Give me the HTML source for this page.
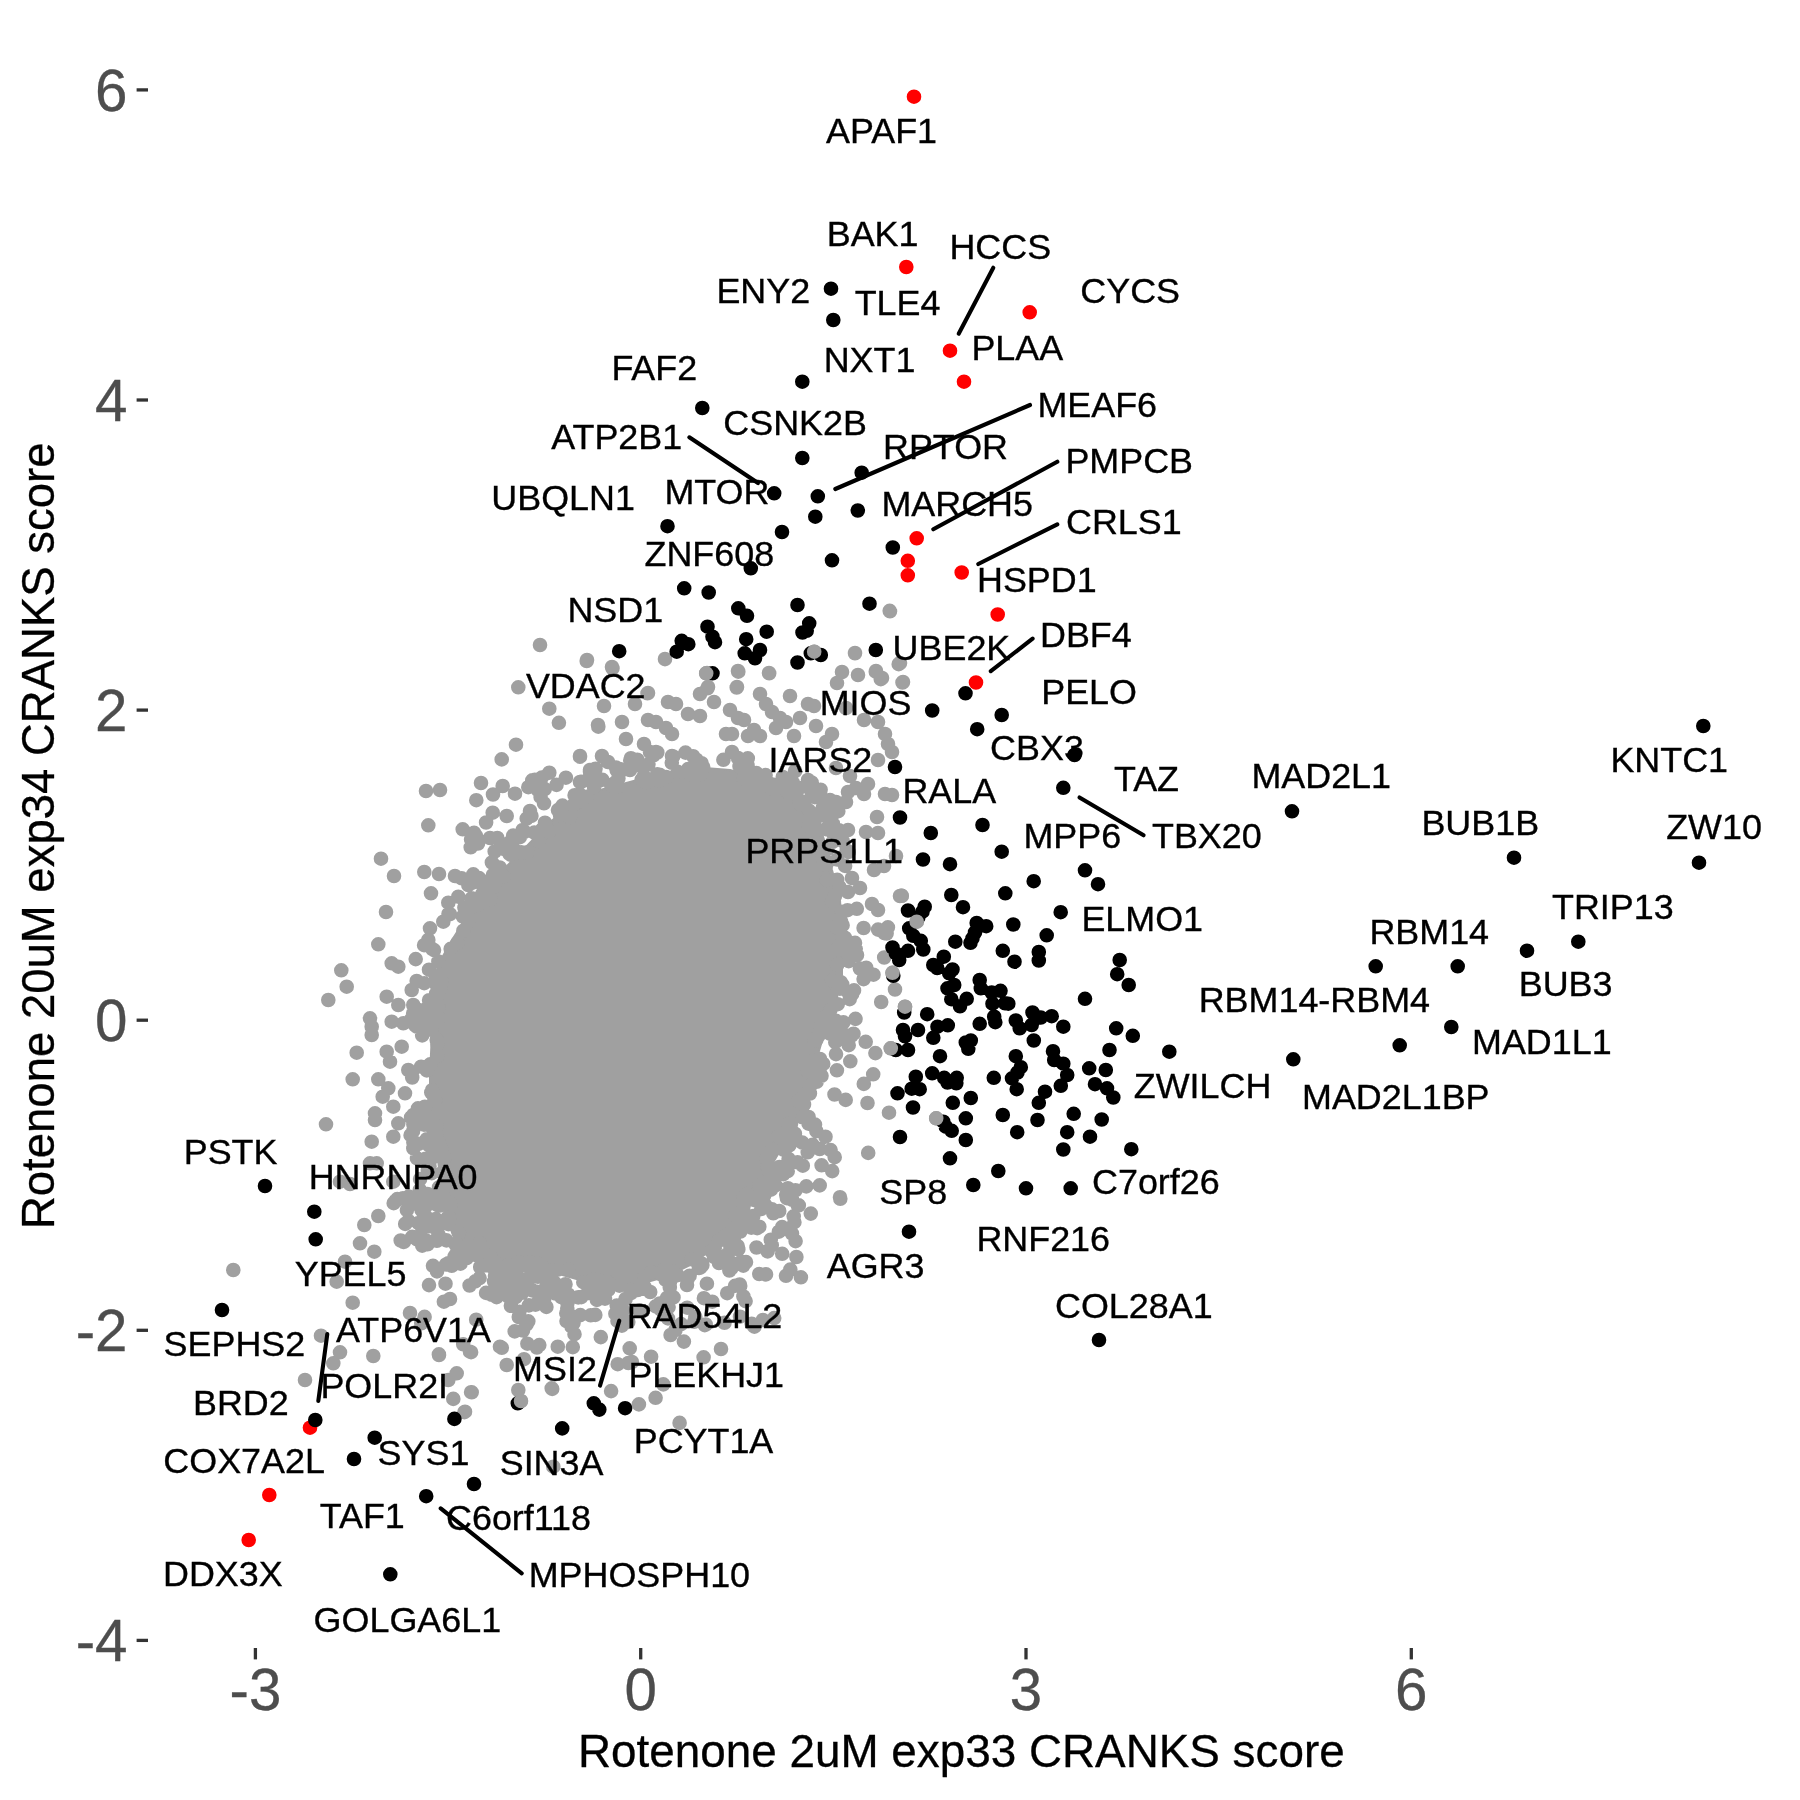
<!DOCTYPE html>
<html><head><meta charset="utf-8"><title>Rotenone CRANKS scatter</title>
<style>
html,body{margin:0;padding:0;background:#fff;}
svg{display:block;will-change:transform;}
text{font-family:"Liberation Sans",sans-serif;}
.lab{font-size:35.9px;fill:#000;stroke:#000;stroke-width:0.35px;}
.tk{font-size:58.33px;fill:#4d4d4d;stroke:#4d4d4d;stroke-width:0.3px;}
.ttl{font-size:45.83px;fill:#000;stroke:#000;stroke-width:0.3px;}
</style></head>
<body>
<svg width="1800" height="1800" viewBox="0 0 1800 1800">
<rect width="1800" height="1800" fill="#fff"/>
<polygon points="680.0,770.0 705.0,768.0 730.0,770.0 760.0,778.0 785.0,788.0 805.0,797.0 817.0,820.0 826.0,845.0 832.0,870.0 840.0,900.0 842.0,930.0 842.0,975.0 836.0,1002.0 826.0,1027.0 819.0,1051.0 813.0,1076.0 806.0,1100.0 794.0,1124.0 781.0,1149.0 767.0,1173.0 752.0,1198.0 735.0,1222.0 716.0,1245.0 696.0,1262.0 668.0,1276.0 640.0,1284.0 610.0,1286.0 580.0,1280.0 545.0,1270.0 510.0,1266.0 480.0,1258.0 455.0,1240.0 445.0,1215.0 442.0,1190.0 438.0,1160.0 433.0,1130.0 430.0,1100.0 430.0,1075.0 432.0,1032.0 433.0,990.0 438.0,965.0 452.0,940.0 466.0,918.0 483.0,895.0 503.0,870.0 525.0,848.0 547.0,825.0 572.0,803.0 600.0,790.0 630.0,782.0 655.0,775.0" fill="#a0a0a0" stroke="#a0a0a0" stroke-width="2" stroke-linejoin="round"/>
<path d="M748.5 777.6h0M526.7 818.6h0M839.4 886.9h0M581.2 1297.1h0M809.4 788.1h0M737.7 1246.1h0M433.1 1024.1h0M439.0 1187.4h0M771.8 1245.0h0M448.5 1224.2h0M729.3 1237.1h0M788.1 1124.4h0M826.8 880.2h0M651.0 1272.2h0M590.7 1293.3h0M787.7 1171.2h0M580.3 1315.1h0M628.3 1321.9h0M600.8 1337.1h0M505.3 1268.1h0M508.7 1296.9h0M665.7 1279.9h0M884.2 957.5h0M853.5 1033.7h0M492.7 876.6h0M445.8 1200.4h0M464.4 907.6h0M747.1 1194.1h0M772.0 788.5h0M832.2 901.6h0M718.3 1241.2h0M579.9 801.1h0M865.7 1041.8h0M735.2 1215.4h0M593.6 1287.1h0M592.5 1288.5h0M786.0 1275.8h0M490.8 899.7h0M486.3 1265.3h0M844.9 937.7h0M821.9 1023.2h0M786.5 790.9h0M739.5 766.2h0M437.8 1019.4h0M528.3 787.2h0M855.0 942.9h0M467.6 1256.8h0M691.1 774.6h0M620.9 1312.4h0M774.2 1318.1h0M611.2 785.1h0M657.3 752.5h0M528.9 1305.4h0M792.8 782.7h0M700.7 774.3h0M574.3 804.0h0M815.8 817.1h0M551.1 1270.6h0M791.0 1123.8h0M437.6 1044.1h0M816.7 829.0h0M422.8 1114.7h0M564.0 1289.3h0M472.1 882.8h0M586.4 796.9h0M630.9 758.2h0M479.6 1278.1h0M413.4 1142.4h0M565.9 777.7h0M761.4 777.6h0M813.8 1075.0h0M481.3 883.7h0M524.6 831.8h0M560.1 815.4h0M538.0 790.2h0M645.7 779.1h0M490.8 1257.2h0M816.6 1081.8h0M411.0 1019.6h0M652.8 779.4h0M782.8 777.0h0M653.8 753.6h0M494.1 1281.5h0M768.6 784.8h0M843.4 1022.3h0M518.8 1317.0h0M783.9 786.4h0M436.1 993.6h0M426.8 1139.2h0M432.1 1090.2h0M809.9 1093.5h0M422.2 1245.6h0M419.2 1203.8h0M747.5 765.2h0M622.4 1311.0h0M796.4 1257.0h0M816.5 1039.5h0M440.2 988.0h0M842.7 841.0h0M429.0 969.7h0M783.3 1149.5h0M510.9 1305.8h0M866.2 967.7h0M852.1 994.2h0M819.7 1185.4h0M644.6 1276.4h0M821.6 1165.3h0M831.6 820.9h0M538.9 1264.1h0M821.5 1075.8h0M689.6 1275.7h0M836.9 1070.3h0M424.0 1124.7h0M493.0 794.5h0M476.2 1319.7h0M762.9 1320.0h0M836.0 1054.1h0M835.0 895.8h0M798.8 1205.4h0M808.6 1117.0h0M471.1 839.6h0M554.7 1282.9h0M743.4 1206.8h0M672.3 1271.2h0M848.7 1045.2h0M847.5 910.2h0M740.2 1285.9h0M730.6 1232.6h0M616.9 769.5h0M677.6 771.9h0M437.6 1016.7h0M558.0 810.1h0M818.3 1036.0h0M476.8 1255.3h0M602.4 779.8h0M435.2 1021.8h0M432.4 949.1h0M759.3 1226.7h0M599.6 1280.7h0M847.5 953.3h0M770.2 1174.2h0M637.7 1290.0h0M789.2 1129.1h0M760.0 1185.8h0M593.5 1279.1h0M694.7 1260.3h0M408.4 1221.0h0M527.2 852.2h0M739.7 1284.5h0M759.4 1186.2h0M703.9 1298.2h0M748.5 769.1h0M744.2 778.5h0M562.5 805.6h0M403.9 1241.9h0M800.0 1102.2h0M467.6 918.8h0M593.7 1280.2h0M848.8 851.9h0M424.2 983.2h0M834.7 1157.2h0M784.2 1134.0h0M595.3 1314.9h0M416.0 1020.2h0M471.7 880.9h0M560.6 1290.9h0M729.4 1270.5h0M520.2 852.6h0M808.5 1123.6h0M799.3 788.1h0M463.4 930.7h0M595.1 1280.0h0M767.9 1167.2h0M669.8 1287.4h0M413.4 1124.5h0M431.3 1092.5h0M431.0 1000.9h0M443.8 1188.2h0M811.6 782.5h0M508.3 1265.2h0M814.9 797.2h0M438.9 1143.2h0M815.0 1124.6h0M795.5 1190.3h0M825.5 1136.7h0M847.6 947.2h0M670.6 1335.0h0M794.9 1133.7h0M541.8 777.6h0M607.4 1281.9h0M819.7 1149.0h0M427.8 1170.0h0M514.6 850.3h0M832.8 823.3h0M638.3 765.1h0M548.1 1276.2h0M799.8 803.5h0M832.0 980.8h0M583.3 1282.2h0M838.3 811.2h0M823.5 1019.9h0M639.4 1310.6h0M648.4 764.5h0M786.2 1194.8h0M850.3 1061.3h0M825.9 829.2h0M751.8 783.8h0M837.7 1004.2h0M863.8 1083.9h0M430.2 1064.4h0M616.0 767.5h0M413.2 1013.2h0M671.8 762.8h0M841.1 921.6h0M836.7 949.7h0M440.5 1187.4h0M714.8 1247.8h0M815.9 830.6h0M569.9 817.3h0M540.6 796.9h0M558.9 722.8h0M424.1 945.2h0M450.7 948.9h0M836.0 1020.8h0M743.4 1296.5h0M673.5 1297.4h0M455.4 1260.7h0M619.7 769.0h0M454.6 1256.6h0M845.7 1099.9h0M630.3 1289.9h0M836.3 927.1h0M804.5 1094.3h0M542.2 829.3h0M790.3 1269.6h0M630.3 760.2h0M804.0 1104.5h0M422.2 1035.4h0M536.9 1347.5h0M492.0 885.0h0M725.1 1236.4h0M817.0 815.4h0M491.9 862.5h0M435.1 1197.5h0M855.7 948.8h0M413.5 1019.5h0M646.8 778.7h0M436.5 1135.7h0M417.0 1158.4h0M770.8 1239.7h0M756.4 773.1h0M432.7 1118.4h0M462.9 916.5h0M820.6 789.7h0M479.4 1242.8h0M513.2 835.6h0M766.7 1159.2h0M673.2 756.5h0M557.8 1269.6h0M829.8 1033.6h0M747.8 758.3h0M840.0 919.1h0M700.2 1267.7h0M653.5 755.4h0M417.8 1009.8h0M473.7 901.4h0M523.0 1330.5h0M828.0 818.2h0M842.2 984.3h0M496.5 1263.8h0M457.3 943.1h0M621.5 1325.4h0M731.2 1268.4h0M859.9 968.6h0M568.5 1269.3h0M824.8 849.6h0M424.3 1111.1h0M812.6 1144.9h0M437.8 1146.7h0M443.8 1155.4h0M637.3 759.7h0M438.8 976.5h0M854.0 990.4h0M556.5 784.9h0M528.9 1278.6h0M538.0 1276.8h0M808.8 825.7h0M807.7 1152.3h0M482.1 895.5h0M435.1 1100.5h0M421.0 1022.6h0M795.1 771.0h0M765.3 1205.1h0M494.7 851.5h0M566.3 1313.2h0M481.5 902.5h0M826.8 1018.9h0M544.6 1273.2h0M886.6 933.5h0M833.5 1028.7h0M455.3 1255.5h0M878.1 929.6h0M503.5 848.9h0M546.4 1277.3h0M561.3 1297.1h0M430.6 1126.1h0M491.1 1263.7h0M595.5 768.7h0M400.7 1240.5h0M514.8 838.3h0M476.3 800.2h0M657.9 779.8h0M817.9 1070.8h0M428.0 1116.4h0M814.4 819.9h0M806.3 1186.4h0M863.6 979.1h0M809.0 810.6h0M468.0 922.1h0M848.7 961.1h0M842.6 925.2h0M645.1 1288.9h0M534.3 832.6h0M517.3 1267.2h0M696.5 759.7h0M519.9 837.1h0M421.1 1066.7h0M691.2 772.9h0M436.9 985.6h0M434.0 950.1h0M744.0 1218.0h0M840.8 982.2h0M615.4 1313.7h0M820.0 1059.0h0M418.1 1025.2h0M723.4 759.8h0M505.3 1292.6h0M441.0 1150.9h0M415.7 959.1h0M474.1 832.8h0M657.4 774.3h0M435.7 980.9h0M761.3 1208.9h0M496.4 1269.7h0M659.7 1303.5h0M493.0 874.9h0M830.5 830.6h0M393.7 1203.2h0M642.3 1284.3h0M834.5 1094.5h0M616.7 770.3h0M478.0 843.5h0M846.7 850.5h0M518.5 1262.2h0M789.4 1145.4h0M788.6 1159.0h0M812.8 1060.6h0M455.9 1260.6h0M873.5 974.7h0M550.4 1275.5h0M811.8 1084.1h0M819.6 1071.3h0M643.8 776.2h0M667.0 1297.9h0M438.4 1007.7h0M776.6 788.2h0M841.4 944.3h0M840.3 1198.8h0M822.6 808.1h0M727.2 1293.2h0M522.1 1292.8h0M825.8 864.0h0M827.6 862.1h0M873.2 1074.3h0M509.5 853.8h0M875.4 1053.1h0M605.0 1298.6h0M515.8 1297.1h0M616.7 1305.6h0M807.6 1071.2h0M527.4 1343.7h0M440.1 1205.5h0M778.2 1136.1h0M424.8 1106.7h0M422.1 1225.3h0M823.8 1017.6h0M594.0 787.1h0M884.4 933.1h0M730.4 1246.7h0M542.2 1266.1h0M432.2 1222.9h0M835.3 1042.2h0M753.9 779.3h0M539.3 1345.1h0M539.0 841.3h0M455.6 1244.6h0M772.5 784.6h0M721.0 1349.0h0M438.4 961.5h0M802.3 1142.6h0M767.6 1251.4h0M535.1 1269.8h0M827.3 849.2h0M450.0 914.2h0M816.4 1131.2h0M500.7 1269.5h0M426.4 1240.7h0M833.9 809.7h0M464.2 1247.8h0M703.6 1357.3h0M641.7 779.6h0M490.9 888.2h0M500.3 1272.8h0M555.5 1293.5h0M660.9 1274.3h0M837.1 964.9h0M677.5 1275.1h0M758.7 1195.3h0M619.4 1285.6h0M698.9 1268.0h0M737.4 1225.2h0M666.9 1305.7h0M510.5 854.7h0M830.6 1150.1h0M771.6 1149.2h0M851.6 1035.6h0M796.3 793.9h0M701.6 763.2h0M418.8 1011.4h0M602.5 1291.6h0M598.5 781.1h0M531.4 815.9h0M476.9 904.9h0M854.4 943.4h0M421.5 1209.8h0M617.7 1364.2h0M867.5 1103.0h0M534.8 779.7h0M693.1 756.2h0M615.5 782.3h0M544.0 1300.0h0M566.5 1321.1h0M532.2 1290.4h0M446.1 1264.5h0M433.0 1265.8h0M804.3 802.0h0M826.0 865.0h0M760.7 786.3h0M827.7 1020.0h0M628.0 768.5h0M889.0 1112.7h0M685.5 752.6h0M837.2 986.6h0M574.5 1334.2h0M802.5 1117.3h0M439.2 982.7h0M549.1 831.4h0M765.6 775.1h0M436.6 1127.4h0M631.0 1293.0h0M598.6 1281.7h0M418.5 1223.1h0M436.6 1000.3h0M484.1 898.1h0M435.7 1219.0h0M672.2 1277.5h0M426.9 1205.0h0M764.3 1184.3h0M719.0 1263.0h0M521.0 1288.2h0M798.2 1100.8h0M841.9 1032.5h0M789.6 1128.3h0M415.2 1025.4h0M403.0 1198.2h0M703.2 767.1h0M545.0 822.7h0M436.2 977.7h0M782.4 782.1h0M823.2 1063.9h0M548.9 1276.9h0M429.1 1145.3h0M837.3 859.5h0M814.8 1040.8h0M788.0 1135.4h0M688.1 769.1h0M690.1 771.2h0M463.2 1344.3h0M687.0 1285.0h0M779.4 1167.0h0M688.7 772.7h0M437.5 1056.0h0M790.6 1130.3h0M695.3 1316.9h0M503.6 876.5h0M508.4 843.3h0M646.7 782.5h0M863.6 928.0h0M436.1 1125.5h0M794.4 1222.2h0M839.0 830.2h0M622.1 770.0h0M405.2 1223.9h0M856.8 908.8h0M544.7 789.1h0M714.0 1256.9h0M482.1 894.2h0M753.1 782.4h0M431.6 1029.9h0M409.8 1197.9h0M628.4 1363.0h0M440.9 1147.7h0M418.0 1108.3h0M519.4 1311.7h0M702.4 1265.0h0M855.5 1018.9h0M590.7 1315.3h0M751.3 1227.7h0M479.1 878.1h0M837.2 879.7h0M555.2 1283.6h0M516.0 1275.5h0M743.4 777.8h0M832.7 841.9h0M494.2 886.8h0M524.0 1359.2h0M451.7 1265.8h0M659.6 774.7h0M486.1 822.5h0M426.2 1008.8h0M460.5 1263.7h0M571.6 1326.7h0M537.1 1291.7h0M442.3 1172.7h0M735.1 1285.8h0M691.5 1259.3h0M411.1 1117.3h0M711.2 1251.1h0M448.5 914.0h0M887.9 927.3h0M579.4 794.2h0M525.0 1265.7h0M712.3 1301.7h0M800.8 1099.5h0M797.6 1162.4h0M660.3 1309.2h0M434.3 1227.4h0M618.0 786.6h0M664.4 1269.3h0M590.5 1292.6h0M529.5 1262.2h0M845.1 865.9h0M822.3 858.0h0M770.9 1189.7h0M618.4 778.6h0M868.2 1152.9h0M441.6 981.1h0M775.5 1185.3h0M450.7 1203.8h0M458.8 1232.4h0M449.6 1217.9h0M475.3 1281.4h0M695.1 1260.5h0M472.0 907.0h0M434.4 1098.8h0M832.2 1171.1h0M501.7 759.4h0M821.0 1028.1h0M594.6 782.5h0M434.2 1000.9h0M574.6 795.2h0M482.3 1250.5h0M411.8 1073.1h0M687.2 1307.7h0M418.6 1143.9h0M857.0 955.0h0M724.5 1322.8h0M789.7 794.2h0M802.8 1165.7h0M426.8 1070.4h0M429.1 1000.2h0M881.2 1002.0h0M395.5 1201.0h0M643.3 781.3h0M839.9 988.7h0M842.0 911.8h0M444.0 1159.2h0M412.2 1077.5h0M413.1 1203.7h0M659.9 780.4h0M753.8 1199.9h0M420.1 1192.1h0M793.7 1216.3h0M499.7 867.5h0M848.0 991.9h0M769.0 785.9h0M812.2 823.5h0M436.9 1240.8h0M740.4 1212.3h0M843.4 1035.7h0M459.5 1255.1h0M521.2 852.3h0M666.2 777.0h0M705.7 1324.5h0M776.4 785.4h0M644.7 1287.1h0M743.8 1196.7h0M436.7 1039.9h0M840.2 928.6h0M467.8 1245.1h0M447.3 1218.1h0M667.6 1303.1h0M768.6 1170.3h0M432.7 1157.6h0M424.6 1316.9h0M849.7 999.2h0M830.4 1009.8h0M719.5 1259.1h0M423.9 1215.2h0M572.8 1347.1h0M741.0 1261.9h0M429.0 1285.1h0M655.7 1306.4h0M535.5 1304.6h0M423.3 1209.9h0M787.9 1188.2h0M608.3 1289.8h0M591.0 1287.2h0M687.5 1279.3h0M416.9 1239.3h0M491.7 1294.8h0M675.5 1330.0h0M544.9 1289.2h0M403.3 1241.9h0M737.7 1229.2h0M778.9 1231.7h0M420.1 1179.1h0M501.5 1269.1h0M426.6 1226.8h0M448.3 1263.2h0M800.9 1277.3h0M526.6 1324.4h0M559.9 1290.1h0M412.2 1236.9h0M631.9 1362.0h0M668.0 1318.4h0M694.2 1321.8h0M772.0 1209.4h0M406.9 1210.1h0M437.0 1271.4h0M757.2 1228.2h0M567.3 1308.2h0M505.2 1269.6h0M786.9 1198.2h0M568.2 1294.5h0M764.2 1195.6h0M588.6 1290.5h0M427.6 1244.3h0M450.0 1299.0h0M792.2 1199.8h0M500.2 1287.9h0M528.3 1321.3h0M466.7 1258.1h0M617.5 1320.9h0M669.8 1283.1h0M519.1 1281.1h0M496.6 1297.2h0M578.2 1297.4h0M429.5 1166.6h0M596.9 1299.9h0M740.4 1231.5h0M734.4 1235.8h0M445.5 1283.7h0M640.7 1289.0h0M766.0 1274.4h0M486.1 1292.9h0M759.3 1274.0h0M437.4 1228.9h0M437.5 1205.2h0M509.4 1279.3h0M782.1 1227.1h0M629.7 1348.4h0M422.2 1228.1h0M621.9 1325.6h0M668.6 1307.1h0M778.0 1173.3h0M492.8 1267.4h0M779.2 1211.0h0M756.5 1247.5h0M783.4 1174.2h0M465.8 1258.4h0M840.0 1197.2h0M495.0 1275.9h0M509.0 1288.1h0M500.6 1282.9h0M433.0 1220.8h0M565.5 1284.2h0M419.8 1189.8h0M745.8 1226.1h0M438.4 1234.6h0M408.8 1196.6h0M410.0 1313.0h0M425.5 1158.9h0M706.9 1283.7h0M768.2 1184.5h0M773.3 1184.8h0M622.9 1310.1h0M751.7 1323.7h0M810.8 1213.6h0M737.6 1227.6h0M792.0 1233.6h0M433.5 1195.8h0M681.1 1324.1h0M618.7 1310.3h0M397.3 1199.1h0M732.0 1263.2h0M747.3 1221.4h0M469.6 1285.5h0M413.1 1131.1h0M480.2 1267.0h0M567.4 1303.3h0M545.7 1289.1h0M431.7 1173.2h0M746.0 1262.1h0M427.6 1194.1h0M459.3 1252.2h0M683.9 1341.6h0M425.2 1215.6h0M569.6 1315.0h0M446.4 1240.4h0M546.4 1306.9h0M443.9 1301.7h0M410.6 1135.2h0M625.6 1299.0h0M436.8 1270.2h0M421.3 1323.3h0M514.7 1331.4h0M523.2 1280.1h0M727.9 1253.7h0M650.2 1292.0h0M738.3 1249.4h0M573.5 1323.1h0M702.1 1263.8h0M704.8 1325.1h0M540.0 645.0h0M586.7 661.0h0M518.3 687.3h0M549.3 708.7h0M598.3 726.7h0M516.0 744.7h0M580.0 756.7h0M549.3 772.7h0M590.0 771.7h0M532.3 780.3h0M581.7 781.7h0M481.0 783.0h0M502.7 786.0h0M515.0 793.7h0M426.0 791.0h0M440.0 790.0h0M492.7 812.7h0M506.7 816.0h0M530.0 811.0h0M544.0 803.3h0M428.3 825.3h0M462.7 829.3h0M476.0 836.0h0M490.0 838.0h0M497.3 838.0h0M522.7 830.0h0M470.7 847.3h0M381.0 858.7h0M394.0 876.0h0M424.3 872.0h0M439.0 874.0h0M455.0 876.0h0M461.7 878.3h0M473.3 874.3h0M468.3 885.0h0M431.0 893.3h0M458.3 896.7h0M448.3 902.7h0M471.7 898.3h0M386.0 912.0h0M443.3 921.7h0M430.0 928.3h0M428.3 940.0h0M378.3 944.3h0M341.3 970.3h0M346.7 986.7h0M391.7 963.3h0M398.3 966.7h0M328.3 1000.0h0M386.7 996.7h0M416.7 981.0h0M411.7 990.0h0M398.3 1005.0h0M413.3 1005.0h0M370.0 1018.3h0M371.7 1026.7h0M371.7 1035.0h0M391.7 1021.7h0M403.3 1023.3h0M416.7 1026.7h0M425.0 1015.0h0M356.7 1052.7h0M386.7 1051.7h0M390.0 1061.7h0M401.7 1046.7h0M408.3 1070.0h0M352.7 1079.3h0M378.3 1079.3h0M388.3 1088.3h0M382.7 1096.7h0M405.0 1093.3h0M393.3 1106.7h0M375.0 1113.3h0M375.0 1120.0h0M326.0 1124.3h0M398.3 1123.3h0M413.3 1115.0h0M393.3 1136.7h0M371.7 1141.7h0M413.3 1148.3h0M370.0 1163.3h0M376.7 1163.3h0M340.0 1181.7h0M350.0 1184.0h0M393.3 1181.7h0M233.3 1270.0h0M364.3 1225.0h0M360.0 1243.3h0M374.3 1251.7h0M378.3 1216.0h0M345.0 1261.7h0M336.7 1281.7h0M352.7 1302.7h0M321.0 1335.7h0M340.0 1352.3h0M333.3 1363.3h0M373.3 1356.0h0M305.0 1380.0h0M439.0 1355.0h0M456.7 1373.3h0M448.3 1380.0h0M471.7 1392.3h0M465.0 1411.7h0M553.3 1466.7h0M520.7 1401.0h0M518.3 1390.0h0M551.7 1388.3h0M506.7 1365.0h0M500.0 1346.7h0M470.0 1351.7h0M438.9 1354.4h0M471.1 1392.2h0M453.3 1398.9h0M464.4 1412.2h0M471.1 1352.2h0M501.8 1347.8h0M552.2 1388.9h0M557.8 1346.7h0M679.6 1422.9h0M638.9 1404.4h0M655.6 1397.8h0M611.1 1391.1h0M663.3 1384.4h0M651.1 1356.7h0M782.2 1253.8h0M743.3 1265.6h0M795.6 1241.1h0M753.3 1216.0h0M773.3 1213.3h0M797.8 1205.6h0M745.6 1301.1h0M740.0 1316.7h0M754.4 1326.7h0M890.0 611.3h0M665.0 659.2h0M612.5 668.3h0M706.2 673.3h0M738.3 671.7h0M769.2 673.3h0M736.7 687.5h0M707.5 688.3h0M814.2 651.7h0M855.0 653.3h0M647.5 693.3h0M889.7 610.8h0M898.7 664.2h0M902.5 682.5h0M875.8 671.7h0M880.8 679.2h0M901.7 895.8h0M916.7 921.7h0M892.5 972.8h0M895.0 989.5h0M905.0 1006.7h0M890.8 1048.3h0M936.2 1118.3h0M587.0 660.0h0M612.0 667.0h0M665.0 659.0h0M855.0 653.0h0M900.0 663.0h0M707.0 673.0h0M738.0 671.0h0M769.0 673.0h0M842.0 672.0h0M837.0 683.0h0M858.0 675.0h0M876.0 671.0h0M882.0 678.0h0M903.0 682.0h0M737.0 687.0h0M708.0 687.0h0M648.0 693.0h0M790.0 696.0h0M760.0 694.0h0M766.0 704.0h0M714.0 702.0h0M700.0 694.0h0M668.0 702.0h0M676.0 704.0h0M604.0 706.0h0M635.0 704.0h0M808.0 704.0h0M814.0 706.0h0M772.0 712.0h0M780.0 718.0h0M786.0 722.0h0M776.0 728.0h0M800.0 718.0h0M816.0 726.0h0M846.0 708.0h0M864.0 720.0h0M878.0 722.0h0M885.0 734.0h0M730.0 710.0h0M738.0 718.0h0M744.0 720.0h0M688.0 714.0h0M700.0 716.0h0M648.0 720.0h0M656.0 722.0h0M598.0 725.0h0M622.0 722.0h0M794.0 736.0h0M754.0 730.0h0M748.0 736.0h0M760.0 736.0h0M726.0 734.0h0M732.0 734.0h0M832.0 734.0h0M826.0 742.0h0M888.0 744.0h0M892.0 752.0h0M666.0 728.0h0M672.0 734.0h0M626.0 739.0h0M644.0 744.0h0M650.0 752.0h0M656.0 752.0h0M580.0 756.0h0M602.0 756.0h0M608.0 762.0h0M590.0 770.0h0M630.0 770.0h0M672.0 756.0h0M732.0 752.0h0M738.0 758.0h0M878.0 760.0h0M836.0 768.0h0M808.0 780.0h0M580.0 782.0h0M850.0 776.0h0M856.0 788.0h0M868.0 784.0h0M864.0 794.0h0M848.0 792.0h0M824.0 800.0h0M830.0 800.0h0M836.0 802.0h0M846.0 802.0h0M885.0 794.0h0M892.0 795.0h0M812.0 794.0h0M877.0 817.0h0M816.0 818.0h0M830.0 828.0h0M848.0 830.0h0M866.0 832.0h0M878.0 833.0h0M896.0 856.0h0M852.0 878.0h0M874.0 870.0h0M884.0 866.0h0M860.0 888.0h0M848.0 892.0h0M900.0 896.0h0M872.0 904.0h0M878.0 910.0h0" fill="none" stroke="#a0a0a0" stroke-width="14.6" stroke-linecap="round"/>
<path d="M310.0 1427.7h0" fill="none" stroke="#f00" stroke-width="14.6" stroke-linecap="round"/>
<path d="M831.0 288.7h0M833.3 320.0h0M802.3 381.7h0M702.3 408.0h0M802.3 458.0h0M861.7 472.7h0M774.2 493.3h0M817.8 496.3h0M857.8 510.5h0M815.3 516.7h0M667.5 526.2h0M782.0 532.0h0M892.8 547.5h0M832.0 560.3h0M750.8 568.3h0M684.2 588.3h0M708.7 592.5h0M738.3 608.3h0M747.0 615.8h0M797.5 605.0h0M869.5 603.7h0M707.5 626.7h0M809.2 623.3h0M766.7 631.7h0M712.5 636.7h0M715.0 642.2h0M802.5 632.5h0M806.7 630.8h0M746.2 639.2h0M681.7 640.8h0M688.3 644.2h0M676.7 651.7h0M619.2 651.2h0M760.0 650.0h0M744.7 653.3h0M755.0 658.3h0M797.5 662.5h0M810.8 653.3h0M820.8 655.0h0M875.8 650.0h0M712.5 673.3h0M895.0 767.0h0M965.5 693.3h0M932.2 710.5h0M1001.7 715.0h0M977.2 729.2h0M1074.5 755.0h0M1063.3 787.8h0M900.0 817.5h0M982.5 825.0h0M930.8 833.0h0M1001.7 851.7h0M923.0 859.5h0M950.0 864.2h0M1085.0 870.3h0M1033.7 881.2h0M1098.0 884.2h0M1005.3 893.3h0M951.3 895.0h0M963.0 907.2h0M1060.7 912.2h0M908.0 910.5h0M924.7 906.7h0M922.5 911.7h0M918.3 917.5h0M976.7 923.0h0M986.2 926.2h0M1013.3 924.5h0M909.2 928.3h0M1046.7 935.3h0M975.0 932.5h0M972.5 938.3h0M970.5 942.8h0M955.3 941.7h0M913.3 935.8h0M920.8 940.8h0M923.3 949.5h0M908.0 950.8h0M892.5 947.5h0M895.8 953.3h0M899.2 960.0h0M1002.8 950.8h0M1038.8 952.0h0M1038.8 960.5h0M1014.5 961.7h0M1119.7 960.0h0M943.8 956.7h0M933.3 965.0h0M937.2 968.0h0M952.5 969.5h0M949.2 973.3h0M1117.2 974.2h0M893.3 975.8h0M979.7 980.0h0M954.2 985.0h0M947.5 988.3h0M1128.7 985.0h0M980.8 988.3h0M991.7 992.5h0M1000.5 990.8h0M1085.0 998.8h0M951.3 999.2h0M966.7 998.8h0M960.0 1006.3h0M992.5 1003.7h0M1005.0 1003.3h0M1008.3 1003.7h0M904.2 1012.5h0M927.2 1014.2h0M1032.5 1012.5h0M994.2 1016.7h0M995.3 1022.2h0M1040.8 1017.5h0M1051.7 1016.2h0M1015.8 1020.5h0M979.7 1023.8h0M1031.7 1025.0h0M1019.7 1028.3h0M1063.3 1026.7h0M947.8 1025.3h0M937.5 1026.7h0M903.0 1030.0h0M918.0 1030.0h0M933.3 1037.8h0M905.0 1036.3h0M1116.2 1028.3h0M1132.8 1035.8h0M1033.8 1040.5h0M970.8 1040.5h0M965.8 1042.5h0M968.3 1048.8h0M895.8 1050.0h0M908.0 1050.0h0M1053.0 1051.2h0M1109.5 1050.0h0M940.0 1056.2h0M1015.8 1056.2h0M1054.2 1060.0h0M1063.3 1063.7h0M1020.8 1067.2h0M1089.2 1068.3h0M1105.8 1070.0h0M1017.5 1072.5h0M1067.2 1075.0h0M915.8 1076.7h0M932.2 1073.3h0M944.2 1077.8h0M956.7 1077.8h0M947.5 1082.5h0M956.3 1083.3h0M993.8 1077.8h0M1012.0 1078.3h0M1060.8 1085.8h0M1095.0 1084.2h0M1107.0 1088.3h0M1016.7 1089.2h0M911.7 1088.7h0M919.7 1089.2h0M897.5 1093.3h0M1045.0 1091.7h0M1113.3 1097.5h0M970.8 1098.0h0M952.8 1102.8h0M1038.8 1102.8h0M913.0 1107.5h0M1073.7 1113.8h0M1002.8 1115.0h0M965.8 1118.3h0M1037.5 1120.0h0M1101.7 1119.5h0M943.3 1121.7h0M945.8 1126.7h0M951.7 1130.8h0M1017.2 1132.2h0M1067.2 1132.2h0M1090.0 1136.7h0M900.0 1137.0h0M965.8 1140.0h0M1063.3 1149.5h0M1131.3 1149.2h0M950.0 1158.3h0M1169.3 1051.7h0M998.3 1171.0h0M973.3 1185.0h0M1026.0 1188.3h0M1070.7 1188.3h0M909.0 1231.7h0M1099.0 1340.0h0M1703.3 726.0h0M1292.0 811.3h0M1514.0 857.7h0M1699.0 862.7h0M1578.3 941.7h0M1527.0 950.7h0M1375.7 966.3h0M1457.7 966.3h0M1451.3 1027.0h0M1399.7 1045.3h0M1293.3 1059.3h0M265.0 1186.0h0M314.3 1211.7h0M315.7 1239.3h0M222.0 1310.0h0M315.3 1420.0h0M454.4 1418.9h0M374.7 1437.7h0M354.0 1459.0h0M474.0 1484.0h0M426.2 1496.2h0M390.3 1574.3h0M562.2 1428.4h0M593.8 1403.3h0M599.3 1409.6h0M625.1 1408.2h0M517.8 1403.3h0" fill="none" stroke="#000" stroke-width="14.6" stroke-linecap="round"/>
<path d="M521.0 1401.0h0M706.2 673.3h0M814.2 651.7h0M916.7 921.7h0M892.5 972.8h0M905.0 1006.7h0M890.8 1048.3h0M936.2 1118.3h0M901.7 895.8h0" fill="none" stroke="#a0a0a0" stroke-width="14.6" stroke-linecap="round"/>
<path d="M914.0 96.7h0M906.3 267.0h0M1029.7 312.3h0M950.0 350.7h0M964.0 381.7h0M916.7 538.3h0M907.8 560.8h0M907.8 575.3h0M961.7 572.5h0M997.7 614.5h0M976.0 682.5h0M269.3 1495.0h0M248.7 1540.0h0" fill="none" stroke="#f00" stroke-width="14.6" stroke-linecap="round"/>
<g stroke="#000" stroke-width="4.1" stroke-linecap="round" fill="none">
<line x1="993.3" y1="267.7" x2="958.7" y2="333.7"/>
<line x1="1030.0" y1="405.0" x2="835.3" y2="489.0"/>
<line x1="689.3" y1="437.3" x2="758.0" y2="483.0"/>
<line x1="1057.3" y1="461.7" x2="933.3" y2="529.3"/>
<line x1="1057.3" y1="524.3" x2="978.3" y2="564.0"/>
<line x1="1032.6" y1="638.6" x2="990.8" y2="671.2"/>
<line x1="1079.5" y1="797.5" x2="1143.6" y2="835.3"/>
<line x1="327.3" y1="1334.0" x2="318.3" y2="1401.0"/>
<line x1="440.7" y1="1508.3" x2="521.7" y2="1573.3"/>
<line x1="619.3" y1="1320.7" x2="600.0" y2="1385.6"/>
</g>
<g class="lab">
<text x="826.0" y="143.4">APAF1</text>
<text x="826.7" y="246.4">BAK1</text>
<text x="949.4" y="259.4">HCCS</text>
<text x="716.4" y="303.4">ENY2</text>
<text x="854.7" y="315.1">TLE4</text>
<text x="1080.3" y="303.4">CYCS</text>
<text x="971.4" y="360.4">PLAA</text>
<text x="823.7" y="372.1">NXT1</text>
<text x="611.4" y="380.1">FAF2</text>
<text x="1037.4" y="417.4">MEAF6</text>
<text x="723.3" y="435.4">CSNK2B</text>
<text x="883.0" y="459.4">RPTOR</text>
<text x="1065.4" y="473.4">PMPCB</text>
<text x="664.4" y="504.1">MTOR</text>
<text x="881.4" y="516.1">MARCH5</text>
<text x="1066.0" y="534.4">CRLS1</text>
<text x="644.5" y="566.1">ZNF608</text>
<text x="977.0" y="591.9">HSPD1</text>
<text x="892.6" y="659.9">UBE2K</text>
<text x="1040.0" y="647.4">DBF4</text>
<text x="1041.2" y="704.4">PELO</text>
<text x="819.7" y="715.1">MIOS</text>
<text x="990.1" y="760.2">CBX3</text>
<text x="768.6" y="771.7">IARS2</text>
<text x="1113.9" y="791.1">TAZ</text>
<text x="902.4" y="802.7">RALA</text>
<text x="1023.4" y="847.7">MPP6</text>
<text x="1152.0" y="847.7">TBX20</text>
<text x="745.4" y="862.7">PRPS1L1</text>
<text x="1081.4" y="931.1">ELMO1</text>
<text x="1133.8" y="1097.7">ZWILCH</text>
<text x="1092.0" y="1194.4">C7orf26</text>
<text x="879.3" y="1204.4">SP8</text>
<text x="1610.4" y="772.1">KNTC1</text>
<text x="1251.4" y="788.4">MAD2L1</text>
<text x="1421.4" y="835.4">BUB1B</text>
<text x="1666.2" y="839.4">ZW10</text>
<text x="1552.0" y="919.4">TRIP13</text>
<text x="1369.4" y="944.4">RBM14</text>
<text x="1518.7" y="996.1">BUB3</text>
<text x="1198.7" y="1012.1">RBM14-RBM4</text>
<text x="1472.0" y="1053.7">MAD1L1</text>
<text x="1302.0" y="1109.4">MAD2L1BP</text>
<text x="294.7" y="1286.1">YPEL5</text>
<text x="336.0" y="1341.7">ATP6V1A</text>
<text x="163.6" y="1356.1">SEPHS2</text>
<text x="320.4" y="1398.4">POLR2I</text>
<text x="193.0" y="1415.4">BRD2</text>
<text x="513.1" y="1380.8">MSI2</text>
<text x="377.6" y="1465.4">SYS1</text>
<text x="163.3" y="1472.7">COX7A2L</text>
<text x="499.7" y="1474.9">SIN3A</text>
<text x="319.7" y="1527.7">TAF1</text>
<text x="446.0" y="1530.4">C6orf118</text>
<text x="163.0" y="1586.1">DDX3X</text>
<text x="528.7" y="1586.9">MPHOSPH10</text>
<text x="313.6" y="1631.7">GOLGA6L1</text>
<text x="976.4" y="1251.1">RNF216</text>
<text x="826.7" y="1277.7">AGR3</text>
<text x="1055.0" y="1318.4">COL28A1</text>
<text x="626.7" y="1328.4">RAD54L2</text>
<text x="628.4" y="1386.7">PLEKHJ1</text>
<text x="633.7" y="1453.4">PCYT1A</text>
<text x="183.7" y="1164.4">PSTK</text>
<text x="308.7" y="1189.4">HNRNPA0</text>
<text x="525.9" y="698.4">VDAC2</text>
<text x="567.4" y="622.4">NSD1</text>
<text x="491.3" y="510.2">UBQLN1</text>
<text x="551.2" y="449.4">ATP2B1</text>
</g>
<g stroke="#333" stroke-width="3.3" fill="none">
<line x1="136.6" y1="89.9" x2="148" y2="89.9"/>
<line x1="136.6" y1="400.0" x2="148" y2="400.0"/>
<line x1="136.6" y1="710.1" x2="148" y2="710.1"/>
<line x1="136.6" y1="1020.2" x2="148" y2="1020.2"/>
<line x1="136.6" y1="1330.3" x2="148" y2="1330.3"/>
<line x1="136.6" y1="1640.4" x2="148" y2="1640.4"/>
<line x1="255.4" y1="1648" x2="255.4" y2="1659.4"/>
<line x1="640.7" y1="1648" x2="640.7" y2="1659.4"/>
<line x1="1026.0" y1="1648" x2="1026.0" y2="1659.4"/>
<line x1="1411.3" y1="1648" x2="1411.3" y2="1659.4"/>
</g>
<g class="tk">
<text x="127.5" y="110.9" text-anchor="end">6</text>
<text x="127.5" y="421.0" text-anchor="end">4</text>
<text x="127.5" y="731.1" text-anchor="end">2</text>
<text x="127.5" y="1041.2" text-anchor="end">0</text>
<text x="127.5" y="1351.3" text-anchor="end">-2</text>
<text x="127.5" y="1661.4" text-anchor="end">-4</text>
<text x="255.4" y="1710" text-anchor="middle">-3</text>
<text x="640.7" y="1710" text-anchor="middle">0</text>
<text x="1026.0" y="1710" text-anchor="middle">3</text>
<text x="1411.3" y="1710" text-anchor="middle">6</text>
</g>
<text class="ttl" x="961.3" y="1766.7" text-anchor="middle">Rotenone 2uM exp33 CRANKS score</text>
<text class="ttl" style="font-size:45.5px" transform="translate(54.4,835.8) rotate(-90)" text-anchor="middle">Rotenone 20uM exp34 CRANKS score</text>
</svg>
</body></html>
